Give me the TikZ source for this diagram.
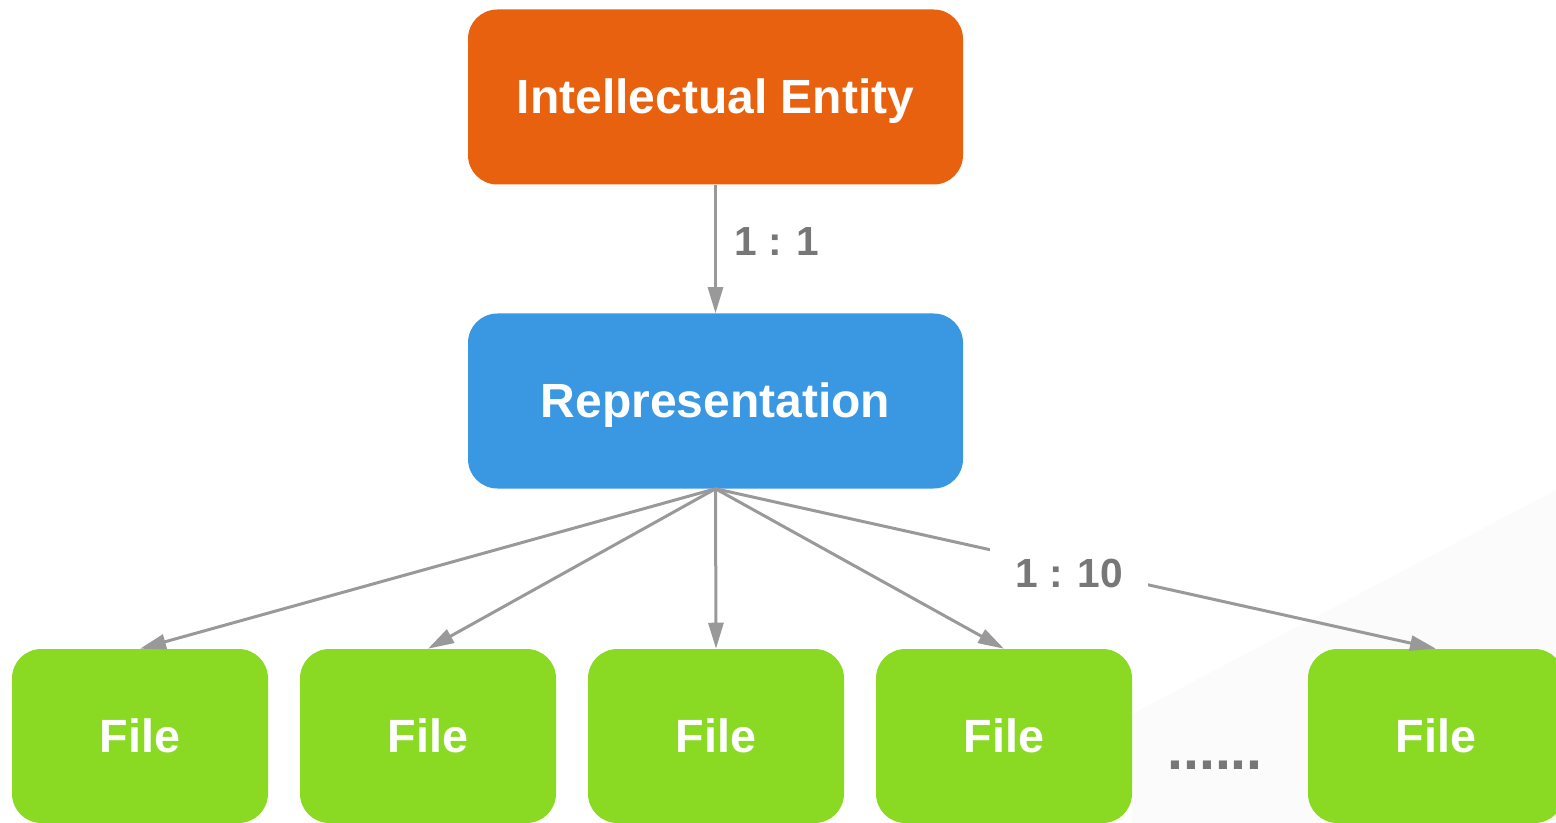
\documentclass[tikz,border=0pt]{standalone}
\usepackage{fontspec}
\setmainfont{Liberation Sans}
\usetikzlibrary{arrows.meta}
\definecolor{ieorange}{HTML}{E8610F}
\definecolor{repblue}{HTML}{3A97E2}
\definecolor{filegreen}{HTML}{8AD923}
\definecolor{linegray}{HTML}{999999}
\definecolor{labelgray}{HTML}{777777}
\definecolor{shadegray}{HTML}{FBFBFB}
\tikzset{
  box/.style={rectangle, rounded corners=22pt, inner sep=0pt, text=white,
    text height=25pt, text depth=-1.5pt},
  bigbox/.style={box, minimum width=371.25pt, minimum height=131.25pt,
    font=\fontsize{36}{40}\selectfont\bfseries},
  filebox/.style={box, fill=filegreen, minimum width=192pt, minimum height=130.5pt,
    font=\fontsize{35}{40}\selectfont\bfseries},
  conn/.style={draw=linegray, line width=2.25pt,
    -{Triangle[length=19.5pt,width=11.25pt]}},
  ratio/.style={text=labelgray, font=\fontsize{30.5}{36}\selectfont\bfseries,
    text height=22pt, text depth=0pt, inner sep=0pt}
}
\begin{document}
\begin{tikzpicture}[x=0.75pt,y=-0.75pt]
\useasboundingbox (0,0) rectangle (1556,823);
% faint background shade
\fill[shadegray] (1132,714) -- (1556,490) -- (1556,823) -- (1132,823) -- cycle;
% boxes
\node[bigbox, fill=ieorange] (ie) at (715.5,97) {Intellectual Entity};
\node[bigbox, fill=repblue] (rep) at (715.5,401) {Representation};
\node[filebox] (f1) at (140,736) {File};
\node[filebox] (f2) at (428,736) {File};
\node[filebox] (f3) at (716,736) {File};
\node[filebox] (f4) at (1004,736) {File};
\node[filebox] (f5) at (1436,736) {File};
% connectors
\draw[conn] (ie.south) -- (rep.north);
\draw[conn] (rep.south) -- (f1.north);
\draw[conn] (rep.south) -- (f2.north);
\draw[conn] (rep.south) -- (f3.north);
\draw[conn] (rep.south) -- (f4.north);
\draw[conn] (rep.south) -- (f5.north);
% labels
\node[ratio] (r11) at (777,241) {1 : 1};
\node[ratio, fill=white, minimum width=118.5pt, minimum height=37.5pt] (r110) at (1069,572.5) {1 : 10};
\node[anchor=base, text=labelgray, font=\fontsize{43}{48}\selectfont\bfseries, inner sep=0pt] (dots) at (1215,769) {......};
\end{tikzpicture}
\end{document}
